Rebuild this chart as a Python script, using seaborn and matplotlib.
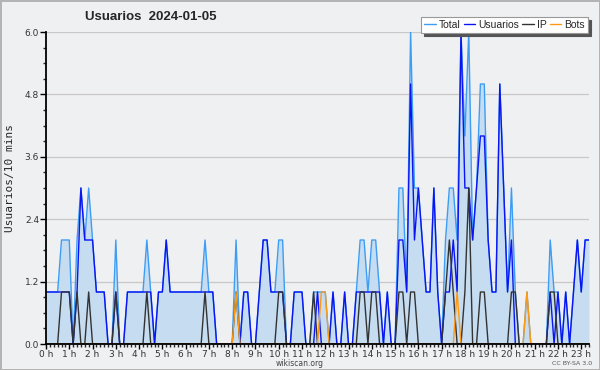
import numpy as np
import pandas as pd
import matplotlib
matplotlib.use("Agg")
import matplotlib.pyplot as plt
from matplotlib.lines import Line2D
from matplotlib.ticker import MultipleLocator, FormatStrFormatter
import seaborn as sns

# one value every 10 minutes, 00:00 -> 23:20
total = [1, 1, 1, 1, 2, 2, 2, 0, 2, 3, 2, 3,
         2, 1, 1, 1, 0, 0, 2, 0, 0, 1, 1, 1,
         1, 1, 2, 1, 0, 1, 1, 2, 1, 1, 1, 1,
         1, 1, 1, 1, 1, 2, 1, 1, 0, 0, 0, 0,
         0, 2, 0, 1, 1, 0, 0, 1, 2, 2, 1, 1,
         2, 2, 0, 0, 1, 1, 1, 0, 0, 1, 1, 1,
         1, 0, 1, 0, 0, 1, 0, 0, 1, 2, 2, 1,
         2, 2, 1, 0, 1, 0, 0, 3, 3, 1, 6, 3,
         3, 2, 1, 1, 3, 1, 0, 2, 3, 3, 2, 6,
         4, 6, 2, 3, 5, 5, 2, 1, 1, 5, 3, 1,
         3, 1, 0, 0, 1, 0, 0, 0, 0, 0, 2, 1,
         1, 0, 1, 0, 1, 2, 1, 2, 2]
usuarios = [1, 1, 1, 1, 1, 1, 1, 0, 1, 3, 2, 2,
            2, 1, 1, 1, 0, 0, 1, 0, 0, 1, 1, 1,
            1, 1, 1, 1, 0, 1, 1, 2, 1, 1, 1, 1,
            1, 1, 1, 1, 1, 1, 1, 1, 0, 0, 0, 0,
            0, 0, 0, 1, 1, 0, 0, 1, 2, 2, 1, 1,
            1, 1, 0, 0, 1, 1, 1, 0, 0, 0, 1, 0,
            0, 0, 1, 0, 0, 1, 0, 0, 1, 1, 1, 1,
            1, 1, 1, 0, 1, 0, 0, 2, 2, 1, 5, 2,
            3, 2, 1, 1, 3, 1, 0, 1, 1, 2, 1, 6,
            3, 3, 2, 3, 4, 4, 2, 1, 1, 5, 3, 1,
            2, 0, 0, 0, 0, 0, 0, 0, 0, 0, 1, 0,
            1, 0, 1, 0, 1, 2, 1, 2, 2]
ip = [0, 0, 0, 0, 1, 1, 1, 0, 1, 0, 0, 1,
      0, 0, 0, 0, 0, 0, 1, 0, 0, 0, 0, 0,
      0, 0, 1, 0, 0, 0, 0, 0, 0, 0, 0, 0,
      0, 0, 0, 0, 0, 1, 0, 0, 0, 0, 0, 0,
      0, 1, 0, 0, 0, 0, 0, 0, 0, 0, 0, 0,
      1, 1, 0, 0, 0, 0, 0, 0, 0, 1, 0, 0,
      0, 0, 0, 0, 0, 0, 0, 0, 0, 1, 1, 0,
      1, 1, 0, 0, 0, 0, 0, 1, 1, 0, 1, 1,
      0, 0, 0, 0, 0, 0, 0, 1, 2, 1, 0, 0,
      1, 3, 0, 0, 1, 1, 0, 0, 0, 0, 0, 0,
      1, 1, 0, 0, 0, 0, 0, 0, 0, 0, 1, 1,
      0, 0, 0, 0, 0, 0, 0, 0, 0]
bots = [0, 0, 0, 0, 0, 0, 0, 0, 0, 0, 0, 0,
        0, 0, 0, 0, 0, 0, 0, 0, 0, 0, 0, 0,
        0, 0, 0, 0, 0, 0, 0, 0, 0, 0, 0, 0,
        0, 0, 0, 0, 0, 0, 0, 0, 0, 0, 0, 0,
        0, 1, 0, 0, 0, 0, 0, 0, 0, 0, 0, 0,
        0, 0, 0, 0, 0, 0, 0, 0, 0, 0, 0, 1,
        1, 0, 0, 0, 0, 0, 0, 0, 0, 0, 0, 0,
        0, 0, 0, 0, 0, 0, 0, 0, 0, 0, 0, 0,
        0, 0, 0, 0, 0, 0, 0, 0, 0, 0, 1, 0,
        0, 0, 0, 0, 0, 0, 0, 0, 0, 0, 0, 0,
        0, 0, 0, 0, 1, 0, 0, 0, 0, 0, 0, 0,
        0, 0, 0, 0, 0, 0, 0, 0, 0]
hour_ticks = list(range(24))
hour_labels = [f"{h} h" for h in hour_ticks]

series_names = ["Total", "Usuarios", "IP", "Bots"]
colors = {"Total": "#3d9df5", "Usuarios": "#0a14f5", "IP": "#333333", "Bots": "#ff9a10"}

df = pd.DataFrame({"hora": np.arange(len(total)) / 6,
                   "Total": total, "Usuarios": usuarios, "IP": ip, "Bots": bots})
long_df = df.melt(id_vars="hora", var_name="serie", value_name="valor")

sns.set_style("ticks")
plt.rcParams["font.family"] = ["DejaVu Sans"]

bg = "#eff0f2"
fig = plt.figure(figsize=(6, 3.7), dpi=100, facecolor=bg)
fig.patch.set_edgecolor("#b4b4b4")
fig.patch.set_linewidth(2)
ax = fig.add_axes([46 / 600, 26 / 370, 543 / 600, 312 / 370])
ax.set_facecolor(bg)

ax.fill_between(df["hora"], df["Total"], color="#c6dcf0", lw=0, zorder=1)
sns.lineplot(data=long_df, x="hora", y="valor", hue="serie", hue_order=series_names,
             palette=colors, lw=1, ax=ax, legend=False, zorder=2)

ax.set_xlim(0, (len(total) - 1) / 6)
ax.set_ylim(0, 6)
ax.set_xticks(hour_ticks)
ax.set_xticklabels(hour_labels)
ax.xaxis.set_minor_locator(MultipleLocator(1 / 6))
ax.yaxis.set_major_locator(MultipleLocator(1.2))
ax.yaxis.set_minor_locator(MultipleLocator(0.3))
ax.yaxis.set_major_formatter(FormatStrFormatter("%.1f"))
ax.tick_params(axis="both", which="major", direction="out", length=4, width=1,
               labelsize=6.5, colors="black", labelcolor="#333333", pad=1)
ax.tick_params(axis="x", which="major", length=3.5, pad=0.5)
ax.tick_params(axis="both", which="minor", direction="out", length=2.5, width=1)
ax.grid(axis="y", which="major", color="#c8c8c8", lw=0.9, zorder=0)
ax.set_axisbelow(True)
for side in ["top", "right"]:
    ax.spines[side].set_visible(False)
for side in ["left", "bottom"]:
    ax.spines[side].set_linewidth(1.3)
    ax.spines[side].set_color("black")
    ax.spines[side].set_zorder(5)
ax.set_xlabel("")
ax.set_ylabel("")

fig.text(85 / 600, 1 - 17 / 370, "Usuarios  2024-01-05", fontsize=9.5, fontweight="bold",
         va="center", ha="left", family="Liberation Sans")
fig.text(10 / 600, 1 - 178 / 370, "Usuarios/10 mins", rotation=90, va="center", ha="center",
         fontsize=8, family="DejaVu Sans Mono")
fig.text(300 / 600, 1 - 363.5 / 370, "wikiscan.org", ha="center", va="center",
         fontsize=5.5, color="#444444")
fig.text(592 / 600, 1 - 363.5 / 370, "CC BY-SA 3.0", ha="right", va="center",
         fontsize=4.5, color="#555555")

handles = [Line2D([], [], color=colors[n], lw=1) for n in series_names]
leg = ax.legend(handles, series_names, ncol=4, loc="upper right",
                bbox_to_anchor=(588 / 600, 1 - 17 / 370), bbox_transform=fig.transFigure,
                frameon=True, fancybox=False, shadow={"color": "#555555", "alpha": 1},
                prop={"family": "Liberation Sans", "size": 7.5},
                handlelength=1.1, handletextpad=0.3, columnspacing=0.3,
                borderpad=0.3, borderaxespad=0)
leg.get_frame().set_edgecolor("#999999")
leg.get_frame().set_linewidth(0.8)
leg.get_frame().set_facecolor("white")
leg.get_frame().set_alpha(1)

fig.savefig("out.png", dpi=100, facecolor=fig.get_facecolor(), edgecolor=fig.get_edgecolor())
